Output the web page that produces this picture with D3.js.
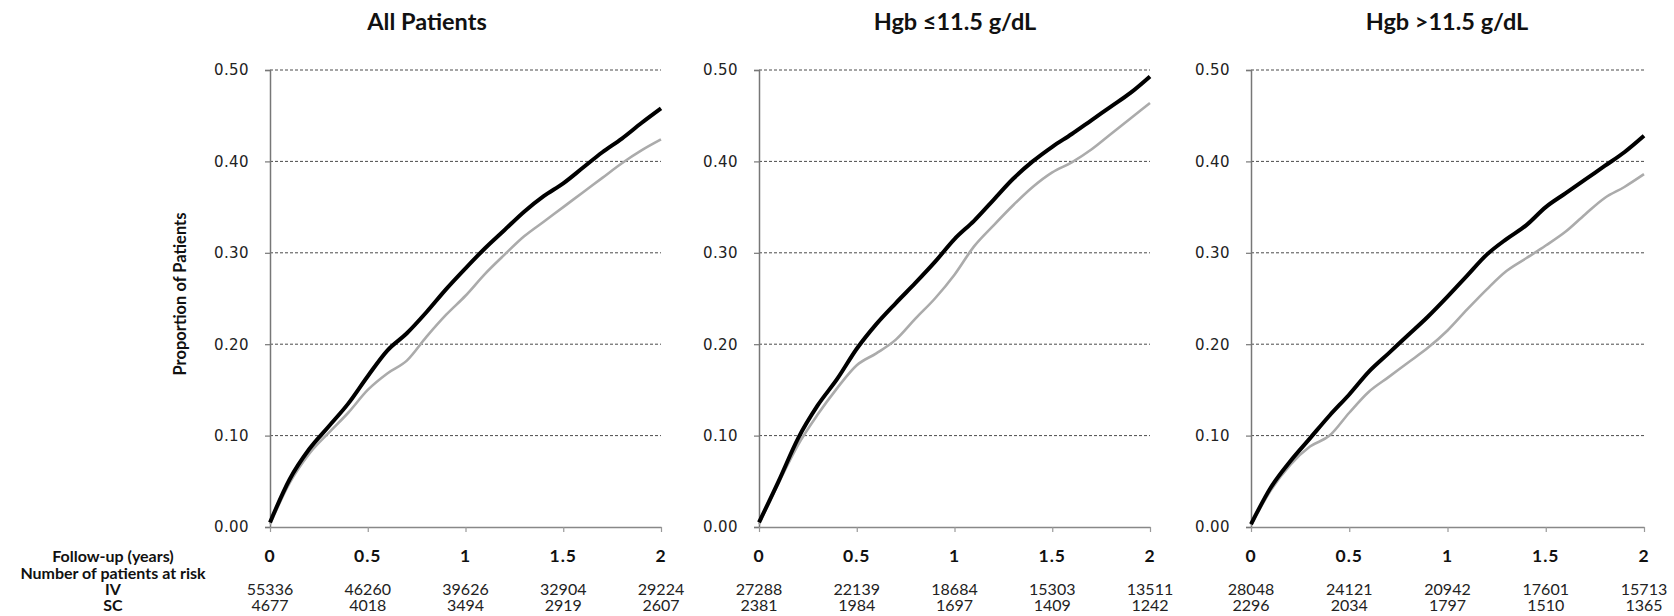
<!DOCTYPE html>
<html>
<head>
<meta charset="utf-8">
<script src="https://cdn.jsdelivr.net/npm/d3@7"></script>
<style>
  html, body { margin: 0; padding: 0; background: #fff; }
  svg { display: block; }
</style>
</head>
<body>
<svg id="chart" width="1674" height="616"></svg>
<script>
// Follow-up times (years) at which cumulative proportions were read
const followUp = [0, 0.1, 0.2, 0.3, 0.4, 0.5, 0.6, 0.7, 0.8, 0.9, 1.0,
                  1.1, 1.2, 1.3, 1.4, 1.5, 1.6, 1.7, 1.8, 1.9, 2.0];

const panelTitles = ["All Patients", "Hgb \u226411.5 g/dL", "Hgb >11.5 g/dL"];

// Cumulative proportion of patients, IV (black) and SC (grey)
const ivAll  = [0.005, 0.052, 0.085, 0.110, 0.135, 0.165, 0.193, 0.212, 0.235, 0.260, 0.283,
                0.305, 0.325, 0.345, 0.362, 0.376, 0.393, 0.410, 0.425, 0.442, 0.458];
const scAll  = [0.003, 0.048, 0.080, 0.103, 0.125, 0.150, 0.168, 0.182, 0.208, 0.232, 0.253,
                0.277, 0.298, 0.318, 0.334, 0.350, 0.366, 0.382, 0.398, 0.412, 0.424];
const ivLow  = [0.005, 0.050, 0.097, 0.133, 0.162, 0.195, 0.222, 0.245, 0.267, 0.290, 0.315,
                0.335, 0.358, 0.381, 0.400, 0.416, 0.430, 0.445, 0.460, 0.475, 0.493];
const scLow  = [0.003, 0.048, 0.090, 0.123, 0.152, 0.177, 0.190, 0.205, 0.228, 0.250, 0.276,
                0.307, 0.330, 0.352, 0.372, 0.388, 0.399, 0.413, 0.430, 0.447, 0.464];
const ivHigh = [0.003, 0.043, 0.072, 0.097, 0.122, 0.145, 0.170, 0.190, 0.210, 0.230, 0.252,
                0.275, 0.298, 0.315, 0.330, 0.350, 0.365, 0.380, 0.395, 0.410, 0.428];
const scHigh = [0.002, 0.040, 0.068, 0.088, 0.100, 0.125, 0.148, 0.164, 0.180, 0.196, 0.215,
                0.238, 0.260, 0.280, 0.294, 0.308, 0.323, 0.342, 0.360, 0.372, 0.386];

// Axis ticks
const xTicks = [0, 0.5, 1, 1.5, 2];
const xTickLabels = ["0", "0.5", "1", "1.5", "2"];
const yTicks = [0, 0.1, 0.2, 0.3, 0.4, 0.5];
const yTickLabels = ["0.00", "0.10", "0.20", "0.30", "0.40", "0.50"];

// Number of patients at risk at each x tick
const atRiskIV = [
  [55336, 46260, 39626, 32904, 29224],
  [27288, 22139, 18684, 15303, 13511],
  [28048, 24121, 20942, 17601, 15713]
];
const atRiskSC = [
  [4677, 4018, 3494, 2919, 2607],
  [2381, 1984, 1697, 1409, 1242],
  [2296, 2034, 1797, 1510, 1365]
];

const ivSeries = [ivAll, ivLow, ivHigh];
const scSeries = [scAll, scLow, scHigh];

// ---- layout ----
const svg = d3.select("#chart");
const plotTop = 70, plotBottom = 527;
const panels = [
  { x0: 270, x1: 661, titleX: 427 },
  { x0: 759, x1: 1150, titleX: 955 },
  { x0: 1251, x1: 1644, titleX: 1447 }
];
const rowY = { follow: 556, number: 573, iv: 589, sc: 605 };
const labelX = 113;

const labelFont = "Lato, 'Open Sans', sans-serif";
const tickFont = "'DejaVu Sans', Verdana, sans-serif";

const y = d3.scaleLinear().domain([0, 0.5]).range([plotBottom, plotTop]);

panels.forEach((p, i) => {
  const x = d3.scaleLinear().domain([0, 2]).range([p.x0, p.x1]);
  const g = svg.append("g");

  // title
  g.append("text")
    .attr("x", p.titleX).attr("y", 30)
    .attr("text-anchor", "middle")
    .style("font-family", labelFont).style("font-weight", 700)
    .style("font-size", "23.5px").attr("fill", "#111")
    .text(panelTitles[i]);

  // dashed gridlines (0.10 .. 0.50)
  g.append("g").selectAll("line")
    .data(yTicks.filter(v => v > 0))
    .join("line")
    .attr("x1", p.x0).attr("x2", p.x1)
    .attr("y1", d => y(d)).attr("y2", d => y(d))
    .attr("stroke", "#4a4a4a").attr("stroke-width", 1)
    .attr("stroke-dasharray", "3,2");

  // y axis
  const yAxis = d3.axisLeft(y).tickValues(yTicks)
    .tickFormat((d, k) => yTickLabels[k]).tickSize(5).tickPadding(16);
  const ya = g.append("g").attr("transform", `translate(${p.x0},0)`).call(yAxis);
  ya.select(".domain").attr("stroke", "#777").attr("stroke-width", 1.5);
  ya.selectAll(".tick line").attr("stroke", "#777").attr("stroke-width", 1.2);
  ya.selectAll(".tick text")
    .style("font-family", tickFont).style("font-size", "15px")
    .style("letter-spacing", "0.4px").attr("fill", "#222");

  // x axis line and ticks
  const xAxis = d3.axisBottom(x).tickValues(xTicks).tickFormat("").tickSize(5).tickSizeOuter(0);
  const xa = g.append("g").attr("transform", `translate(0,${plotBottom})`).call(xAxis);
  xa.select(".domain").attr("stroke", "#888").attr("stroke-width", 1.5);
  xa.selectAll(".tick line").attr("stroke", "#999").attr("stroke-width", 1.2);

  // x tick labels (follow-up years)
  g.append("g").selectAll("text")
    .data(xTicks)
    .join("text")
    .attr("x", d => x(d)).attr("y", rowY.follow)
    .attr("dy", "0.35em").attr("text-anchor", "middle")
    .style("font-family", labelFont).style("font-weight", 700)
    .style("font-size", "17.5px").style("letter-spacing", "1px").attr("fill", "#111")
    .text((d, k) => xTickLabels[k]);

  // at-risk counts
  [[atRiskIV[i], rowY.iv], [atRiskSC[i], rowY.sc]].forEach(([vals, ry]) => {
    g.append("g").selectAll("text")
      .data(vals)
      .join("text")
      .attr("x", (d, k) => x(xTicks[k])).attr("y", ry)
      .attr("dy", "0.35em").attr("text-anchor", "middle")
      .style("font-family", labelFont).style("font-size", "16px").attr("fill", "#222")
      .text(d => d);
  });

  // curves
  const line = d3.line()
    .x((d, k) => x(followUp[k]))
    .y(d => y(d))
    .curve(d3.curveMonotoneX);

  g.append("path").datum(scSeries[i])
    .attr("d", line).attr("fill", "none")
    .attr("stroke", "#ababab").attr("stroke-width", 2.6)
    .attr("stroke-linejoin", "round");
  g.append("path").datum(ivSeries[i])
    .attr("d", line).attr("fill", "none")
    .attr("stroke", "#000").attr("stroke-width", 4)
    .attr("stroke-linejoin", "round");
});

// shared y axis title
svg.append("text")
  .attr("transform", "translate(180,294) rotate(-90)")
  .attr("text-anchor", "middle").attr("dy", "0.35em")
  .style("font-family", labelFont).style("font-weight", 700)
  .style("font-size", "16.5px").attr("fill", "#111")
  .text("Proportion of Patients");

// at-risk table row labels
const rowLabels = [
  ["Follow-up (years)", rowY.follow],
  ["Number of patients at risk", rowY.number],
  ["IV", rowY.iv],
  ["SC", rowY.sc]
];
svg.append("g").selectAll("text")
  .data(rowLabels)
  .join("text")
  .attr("x", labelX).attr("y", d => d[1])
  .attr("dy", "0.35em").attr("text-anchor", "middle")
  .style("font-family", labelFont).style("font-weight", 700)
  .style("font-size", "16px").attr("fill", "#111")
  .text(d => d[0]);
</script>
</body>
</html>
